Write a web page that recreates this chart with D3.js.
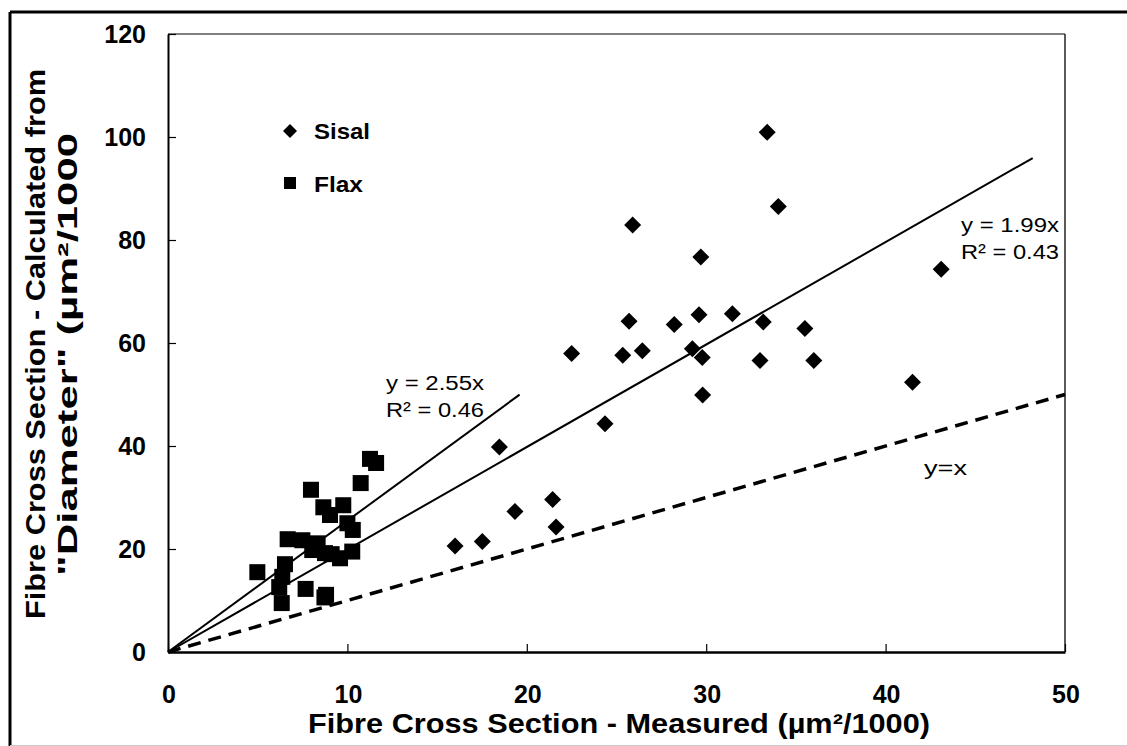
<!DOCTYPE html>
<html><head><meta charset="utf-8">
<script src="https://cdn.jsdelivr.net/npm/d3@7"></script>
<style>body{margin:0;background:#fff}svg{display:block}text{font-family:Arial,"Liberation Sans",sans-serif;fill:#000}</style>
</head><body>
<svg id="c" width="1127" height="746"></svg>
<script>
const xTicks = [0, 10, 20, 30, 40, 50];
const yTicks = [0, 20, 40, 60, 80, 100, 120];

const flaxX = [4.98, 6.52, 6.37, 6.2, 6.34, 6.67, 7.49, 7.67, 7.97, 8.04, 8.34, 8.66, 9.03, 8.81, 8.72, 8.75, 9.12, 9.59, 9.77, 10.0, 10.3, 10.27, 10.74, 11.26, 11.6];
const flaxY = [15.5, 17.05, 14.6, 12.6, 9.5, 21.9, 21.7, 12.25, 31.5, 19.8, 21.1, 28.1, 26.6, 11.1, 10.6, 19.2, 19.0, 18.2, 28.5, 25.0, 23.7, 19.5, 32.8, 37.5, 36.7];

const sisalX = [16.0, 17.52, 19.34, 18.47, 21.44, 21.63, 24.36, 22.5, 25.35, 33.4, 34.02, 25.9, 29.7, 25.7, 28.22, 29.6, 31.46, 33.18, 35.5, 26.44, 29.23, 29.78, 33.0, 36.0, 41.5, 43.1, 29.8];
const sisalY = [20.6, 21.45, 27.3, 39.8, 29.6, 24.25, 44.3, 57.95, 57.6, 100.9, 86.5, 82.9, 76.7, 64.2, 63.6, 65.5, 65.7, 64.1, 62.8, 58.5, 58.9, 57.2, 56.6, 56.6, 52.4, 74.3, 49.9];

const fitNames = ["Sisal", "Flax", "y=x"];
const fitSlopes = [1.99, 2.55, 1.0];
const fitXEnd = [48.2, 19.6, 50];
const fitLabels = [["y = 1.99x", "R² = 0.43"], ["y = 2.55x", "R² = 0.46"], ["y=x"]];

const svg = d3.select("#c");
const x = d3.scaleLinear().domain([0, 50]).range([168, 1065]);
const y = d3.scaleLinear().domain([0, 120]).range([652, 34]);

// outer frame
svg.append("line").attr("x1", 10).attr("y1", 12).attr("x2", 10).attr("y2", 746).attr("stroke", "#000").attr("stroke-width", 3);
svg.append("line").attr("x1", 10).attr("y1", 12).attr("x2", 1127).attr("y2", 12).attr("stroke", "#000").attr("stroke-width", 3);
svg.append("line").attr("x1", 10).attr("y1", 745.5).attr("x2", 1127).attr("y2", 745.5).attr("stroke", "#ccc").attr("stroke-width", 1);

// plot border top/right
svg.append("line").attr("x1", x(0)).attr("y1", y(120)).attr("x2", x(50)).attr("y2", y(120)).attr("stroke", "#555").attr("stroke-width", 1.5);
svg.append("line").attr("x1", x(50)).attr("y1", y(120)).attr("x2", x(50)).attr("y2", y(0)).attr("stroke", "#222").attr("stroke-width", 1.5);

// axes
const xAxis = svg.append("g").attr("transform", `translate(0,${y(0)})`)
  .call(d3.axisBottom(x).tickValues(xTicks).tickSizeInner(-8).tickSizeOuter(0).tickFormat(""));
xAxis.select(".domain").attr("stroke-width", 2.5);
xAxis.selectAll(".tick line").attr("stroke-width", 1.2);
const yAxis = svg.append("g").attr("transform", `translate(${x(0)},0)`)
  .call(d3.axisLeft(y).tickValues(yTicks).tickSizeInner(-8).tickSizeOuter(0).tickFormat(""));
yAxis.select(".domain").attr("stroke-width", 2);
yAxis.selectAll(".tick line").attr("stroke-width", 1.2);

// tick labels
svg.append("g").selectAll("text").data(xTicks).join("text")
  .attr("x", d => x(d) + 1).attr("y", 703).attr("text-anchor", "middle")
  .attr("font-size", 25).attr("font-weight", "bold").text(d => d);
svg.append("g").selectAll("text").data(yTicks).join("text")
  .attr("x", 146).attr("y", d => y(d) + 9).attr("text-anchor", "end")
  .attr("font-size", 25).attr("font-weight", "bold").text(d => d);

// axis titles
svg.append("text").attr("x", 308).attr("y", 733).attr("font-size", 28).attr("font-weight", "bold")
  .attr("textLength", 622).attr("lengthAdjust", "spacingAndGlyphs")
  .text("Fibre Cross Section - Measured (µm²/1000)");
svg.append("text").attr("transform", "translate(45,619) rotate(-90)").attr("font-size", 28).attr("font-weight", "bold")
  .attr("textLength", 550).attr("lengthAdjust", "spacingAndGlyphs")
  .text("Fibre Cross Section - Calculated from");
svg.append("text").attr("transform", "translate(77,576) rotate(-90)").attr("font-size", 28).attr("font-weight", "bold")
  .attr("textLength", 443).attr("lengthAdjust", "spacingAndGlyphs")
  .text("\"Diameter\" (µm²/1000");

// fit lines
const fits = fitNames.map((n, i) => ({name: n, slope: fitSlopes[i], xEnd: fitXEnd[i]}));
svg.append("g").selectAll("line").data(fits).join("line")
  .attr("x1", x(0)).attr("y1", y(0))
  .attr("x2", d => x(d.xEnd)).attr("y2", d => y(d.slope * d.xEnd))
  .attr("stroke", "#000")
  .attr("stroke-width", d => d.name === "y=x" ? 3.5 : 2)
  .attr("stroke-dasharray", d => d.name === "y=x" ? "13,8" : null);

// markers
const sq = 16;
svg.append("g").selectAll("rect").data(flaxX.map((v, i) => [v, flaxY[i]])).join("rect")
  .attr("x", d => x(d[0]) - sq / 2).attr("y", d => y(d[1]) - sq / 2)
  .attr("width", sq).attr("height", sq).attr("fill", "#000");
const dm = 8.5;
svg.append("g").selectAll("path").data(sisalX.map((v, i) => [v, sisalY[i]])).join("path")
  .attr("d", d => { const cx = x(d[0]), cy = y(d[1]); return `M${cx},${cy - dm}L${cx + dm},${cy}L${cx},${cy + dm}L${cx - dm},${cy}Z`; })
  .attr("fill", "#000");

// fit labels
const lab = svg.append("g").attr("font-size", 20);
const labPos = [[961, 232, 98], [386, 390, 98], [924, 475, 43]];
fitLabels.forEach((ls, i) => {
  ls.forEach((t, j) => {
    lab.append("text").attr("x", labPos[i][0]).attr("y", labPos[i][1] + j * 27)
      .attr("textLength", labPos[i][2]).attr("lengthAdjust", "spacingAndGlyphs").text(t);
  });
});

// legend
const lg = svg.append("g").attr("font-size", 22).attr("font-weight", "bold");
lg.append("path").attr("d", `M290,${131 - 7}L297,131L290,${131 + 7}L283,131Z`).attr("fill", "#000");
lg.append("text").attr("x", 314).attr("y", 139).attr("textLength", 56).attr("lengthAdjust", "spacingAndGlyphs").text("Sisal");
lg.append("rect").attr("x", 284).attr("y", 177).attr("width", 12).attr("height", 12).attr("fill", "#000");
lg.append("text").attr("x", 314).attr("y", 192).attr("textLength", 49).attr("lengthAdjust", "spacingAndGlyphs").text("Flax");
</script>
</body></html>
